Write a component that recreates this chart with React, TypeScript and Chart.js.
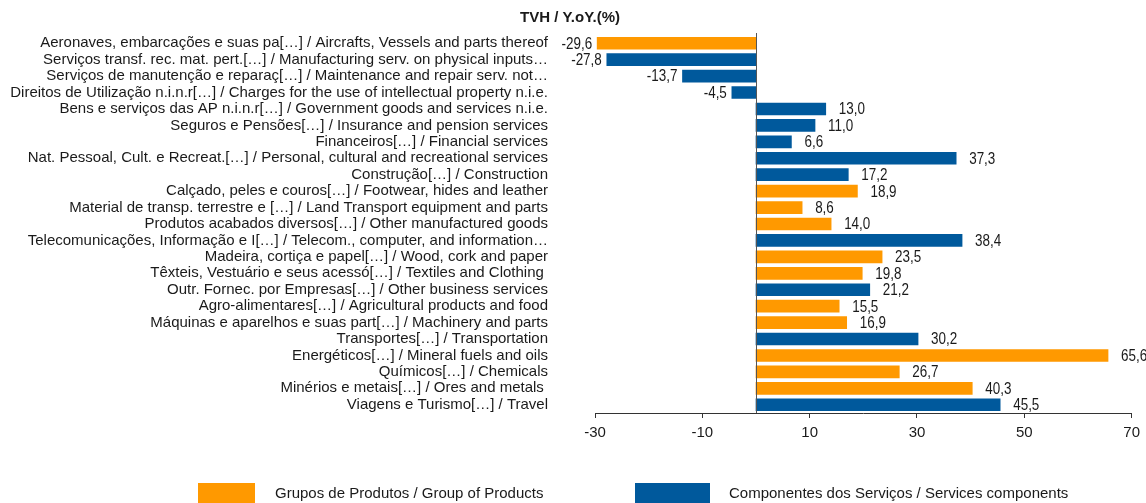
import React, { useEffect, useRef } from "react";
import { Chart, registerables } from "chart.js";

Chart.register(...registerables);

const categories: string[] = [
  "Aeronaves, embarcações e suas pa[…] / Aircrafts, Vessels and parts thereof",
  "Serviços transf. rec. mat. pert.[…] / Manufacturing serv. on physical inputs…",
  "Serviços de manutenção e reparaç[…] / Maintenance and repair serv. not…",
  "Direitos de Utilização n.i.n.r[…] / Charges for the use of intellectual property n.i.e.",
  "Bens e serviços das AP n.i.n.r[…] / Government goods and services n.i.e.",
  "Seguros e Pensões[…] / Insurance and pension services",
  "Financeiros[…] / Financial services",
  "Nat. Pessoal, Cult. e Recreat.[…] / Personal, cultural and recreational services",
  "Construção[…] / Construction",
  "Calçado, peles e couros[…] / Footwear, hides and leather",
  "Material de transp. terrestre e […] / Land Transport equipment and parts",
  "Produtos acabados diversos[…] / Other manufactured goods",
  "Telecomunicações, Informação e I[…] / Telecom., computer, and information…",
  "Madeira, cortiça e papel[…] / Wood, cork and paper",
  "Têxteis, Vestuário e seus acessó[…] / Textiles and Clothing ",
  "Outr. Fornec. por Empresas[…] / Other business services",
  "Agro-alimentares[…] / Agricultural products and food",
  "Máquinas e aparelhos e suas part[…] / Machinery and parts",
  "Transportes[…] / Transportation",
  "Energéticos[…] / Mineral fuels and oils",
  "Químicos[…] / Chemicals",
  "Minérios e metais[…] / Ores and metals ",
  "Viagens e Turismo[…] / Travel",
];

const productValues: (number | null)[] = [
  -29.6, null, null, null, null, null, null, null, null, 18.9, 8.6, 14.0,
  null, 23.5, 19.8, null, 15.5, 16.9, null, 65.6, 26.7, 40.3, null,
];

const serviceValues: (number | null)[] = [
  null, -27.8, -13.7, -4.5, 13.0, 11.0, 6.6, 37.3, 17.2, null, null, null,
  38.4, null, null, 21.2, null, null, 30.2, null, null, null, 45.5,
];

const xTickValues: number[] = [-30, -10, 10, 30, 50, 70];

const seriesNames: string[] = [
  "Grupos de Produtos / Group of Products",
  "Componentes dos Serviços / Services components",
];

const ORANGE = "#FF9900";
const BLUE = "#00599C";
const FONT = "'Liberation Sans', Arial, sans-serif";
const TEXT = "#1a1a1a";

const valueLabels = {
  id: "valueLabels",
  afterDatasetsDraw(chart: any) {
    const ctx = chart.ctx;
    const sx = 0.84;
    chart.data.datasets.forEach((ds: any, di: number) => {
      const meta = chart.getDatasetMeta(di);
      meta.data.forEach((el: any, i: number) => {
        const v = ds.data[i];
        if (v === null || v === undefined) return;
        const txt = v.toFixed(1).replace(".", ",");
        ctx.save();
        ctx.font = `16px ${FONT}`;
        ctx.fillStyle = TEXT;
        ctx.textBaseline = "middle";
        const ax = v >= 0 ? el.x + 13 : el.x - 5;
        ctx.translate(ax, el.y + 1);
        ctx.scale(sx, 1);
        ctx.textAlign = v >= 0 ? "left" : "right";
        ctx.fillText(txt, 0, 0);
        ctx.restore();
      });
    });
  },
};

const zeroLine = {
  id: "zeroLine",
  afterDatasetsDraw(chart: any) {
    const { ctx, chartArea, scales } = chart;
    const x = Math.round(scales.x.getPixelForValue(0)) + 0.5;
    ctx.save();
    ctx.strokeStyle = "#555555";
    ctx.lineWidth = 1;
    ctx.beginPath();
    ctx.moveTo(x, chartArea.top - 2);
    ctx.lineTo(x, chartArea.bottom);
    ctx.stroke();
    ctx.restore();
  },
};

export default function App() {
  const ref = useRef<HTMLCanvasElement>(null);

  useEffect(() => {
    if (!ref.current) return;
    const chart = new Chart(ref.current, {
      type: "bar",
      data: {
        labels: categories,
        datasets: [
          {
            label: seriesNames[0],
            data: productValues,
            backgroundColor: ORANGE,
            borderWidth: 0,
            grouped: false,
            barThickness: 12,
          } as any,
          {
            label: seriesNames[1],
            data: serviceValues,
            backgroundColor: BLUE,
            borderWidth: 0,
            grouped: false,
            barThickness: 12,
          } as any,
        ],
      },
      options: {
        indexAxis: "y",
        animation: false,
        responsive: false,
        maintainAspectRatio: false,
        layout: { padding: { left: 7, right: 13, top: 0, bottom: 50 } },
        plugins: {
          legend: { display: false },
          tooltip: { enabled: false },
          title: {
            display: true,
            text: "TVH / Y.oY.(%)",
            color: TEXT,
            font: { family: FONT, size: 15, weight: "bold" },
            padding: { top: 9, bottom: 8 },
          },
        },
        scales: {
          x: {
            type: "linear",
            min: -30,
            max: 70,
            afterBuildTicks: (scale: any) => {
              scale.ticks = xTickValues.map((v) => ({ value: v }));
            },
            afterFit: (scale: any) => {
              scale.height = 40;
            },
            grid: {
              display: true,
              drawOnChartArea: false,
              drawTicks: true,
              tickLength: 5,
              color: "#333333",
            },
            border: { display: true, color: "#333333" },
            ticks: {
              color: TEXT,
              font: { family: FONT, size: 15 },
              padding: 6,
              maxRotation: 0,
              autoSkip: false,
            },
          },
          y: {
            type: "category",
            afterFit: (scale: any) => {
              scale.width = 588;
              scale.paddingTop = 0;
              scale.paddingBottom = 0;
            },
            grid: { display: false, drawTicks: false, tickLength: 0 },
            border: { display: false },
            ticks: {
              color: TEXT,
              font: { family: FONT, size: 15 },
              padding: 47,
              autoSkip: false,
            },
          },
        },
      },
      plugins: [valueLabels, zeroLine],
    });
    return () => chart.destroy();
  }, []);

  const legendText: React.CSSProperties = {
    position: "absolute",
    top: 483,
    height: 20,
    lineHeight: "20px",
    fontFamily: FONT,
    fontSize: 15,
    color: TEXT,
    whiteSpace: "nowrap",
  };

  return (
    <div style={{ position: "absolute", left: 0, top: 0, width: 1146, height: 503, overflow: "hidden", background: "#fff" }}>
      <canvas ref={ref} width={1146} height={503} style={{ position: "absolute", left: 0, top: 0, width: 1146, height: 503 }} />
      <div style={{ position: "absolute", left: 198, top: 483, width: 57, height: 20, background: ORANGE }} />
      <div style={{ ...legendText, left: 275 }}>{seriesNames[0]}</div>
      <div style={{ position: "absolute", left: 635, top: 483, width: 75, height: 20, background: BLUE }} />
      <div style={{ ...legendText, left: 729 }}>{seriesNames[1]}</div>
    </div>
  );
}
